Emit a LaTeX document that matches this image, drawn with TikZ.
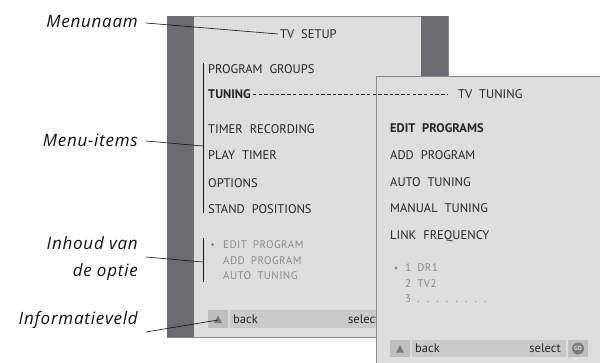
\documentclass[tikz,border=0pt]{standalone}
\usepackage{fontspec}
\setmainfont{PT Sans}
\newfontfamily\menufont[WordSpace=2.1]{PT Sans}
\newfontfamily\subfont[WordSpace=1.8,LetterSpace=4]{PT Sans}
\newfontfamily\lblfont[LetterSpace=4.5]{Open Sans}
\definecolor{panel}{HTML}{DDDDDE}
\definecolor{darkbar}{HTML}{6C6C70}
\definecolor{infobar}{HTML}{C9C9CA}
\definecolor{infocell}{HTML}{BEBEBF}
\definecolor{edge}{HTML}{8A8A8C}
\definecolor{menutext}{HTML}{262626}
\definecolor{subtext}{HTML}{8A8A8A}
\definecolor{labeltext}{HTML}{111111}
\begin{document}
\begin{tikzpicture}[x=1pt,y=-1pt,
  menu/.style={font=\menufont\fontsize{12.5}{13}\selectfont, text=menutext, anchor=west, inner sep=0pt, text height=8.8pt, text depth=0pt},
  menubold/.style={menu, font=\menufont\bfseries\fontsize{12.5}{13}\selectfont},
  sub/.style={font=\subfont\fontsize{11}{12}\selectfont, text=subtext, anchor=west, inner sep=0pt, text height=7.7pt, text depth=0pt},
  info/.style={font=\fontsize{12.5}{13}\selectfont, text=menutext, anchor=west, inner sep=0pt, text height=8.8pt, text depth=0pt},
  lbl/.style={font=\lblfont\itshape\fontsize{17}{19}\selectfont, text=labeltext, anchor=east, inner sep=0pt, text height=12pt, text depth=0pt},
  leader/.style={draw=labeltext, line width=0.6pt},
  bracket/.style={draw=labeltext, line width=0.6pt},
  panelbox/.style={fill=panel, draw=edge, line width=0.6pt},
  barbox/.style={fill=darkbar},
  cell/.style={fill=infocell},
  bar/.style={fill=infobar},
  tri/.style={fill=subtext!90!black}
]
\useasboundingbox (0,0) rectangle (600,362);
% ---------- left panel ----------
\path[panelbox] (167,16) rectangle (448,337);
\path[barbox] (167.3,16.3) rectangle (194,336.7);
\path[barbox] (421,16.3) rectangle (447.7,336.7);
\node[menu] (tvsetup) at (280,34) {TV SETUP};
\node[menu] (pg) at (208,69) {PROGRAM GROUPS};
\node[menubold] (tuning) at (208,94) {TUNING};
\node[menu] (tr) at (208,129) {TIMER RECORDING};
\node[menu] (pt) at (208,155) {PLAY TIMER};
\node[menu] (opt) at (208,183) {OPTIONS};
\node[menu] (sp) at (208,209) {STAND POSITIONS};
\node[sub] (ep1) at (223,245) {EDIT PROGRAM};
\node[sub] (ap1) at (223,261) {ADD PROGRAM};
\node[sub] (at1) at (223,276) {AUTO TUNING};
\fill[subtext] (212.5,244.5) circle (1.6);
% left info bar
\path[cell] (208,310) rectangle (228,328);
\path[bar] (230,310) rectangle (420,328);
\path[tri] (214,323) -- (222,323) -- (218,315.5) -- cycle;
\node[info] (back1) at (233,319) {back};
\node[info] (sel1) at (348,319) {select};
% brackets
\draw[bracket] (203,63) -- (203,213);
\draw[bracket] (203,238) -- (203,282);
% ---------- right panel ----------
\path[panelbox] (376,76) rectangle (601,363);
\node[menu] (tvtuning) at (458,94) {TV TUNING};
\node[menubold] (ep) at (390,128) {EDIT PROGRAMS};
\node[menu] (ap) at (390,155) {ADD PROGRAM};
\node[menu] (at) at (390,182) {AUTO TUNING};
\node[menu] (mt) at (390,208) {MANUAL TUNING};
\node[menu] (lf) at (390,235) {LINK FREQUENCY};
\node[sub] (p1) at (405,268) {1 DR1};
\node[sub] (p2) at (405,284) {2 TV2};
\node[sub] (p3) at (405,299) {3 . . . . . . . .};
\fill[subtext] (396,268) circle (1.6);
% right info bar
\path[cell] (390,340) rectangle (410,357);
\path[bar] (412,340) rectangle (566,357);
\path[cell] (568,340) rectangle (588,357);
\path[tri] (396,352.5) -- (404,352.5) -- (400,345) -- cycle;
\node[info] (back2) at (415,348.5) {back};
\node[info, anchor=east] (sel2) at (561,348.5) {select};
\fill[subtext!90!black] (578,348.5) circle (6);
\node[font=\bfseries\fontsize{6}{6}\selectfont, text=panel, inner sep=0pt] (go) at (578,348.5) {GO};
% dashed connector
\draw[draw=menutext, line width=0.6pt, dash pattern=on 3.5pt off 2.2pt] ([xshift=2pt]tuning.east) -- ([xshift=-10pt]tvtuning.west);
% ---------- labels ----------
\node[lbl] (l1) at (138,21) {Menunaam};
\node[lbl] (l2) at (138,140) {Menu-items};
\node[lbl] (l3) at (138,243) {Inhoud van};
\node[lbl] (l3b) at (138,270) {de optie};
\node[lbl] (l4) at (138,318) {Informatieveld};
\coordinate (c2) at (203,146);
\coordinate (c3) at (203,262);
\coordinate (c4) at (218,320);
\draw[leader] ([xshift=8pt,yshift=-2pt]l1.east) -- ([xshift=-2pt]tvsetup.west);
\draw[leader] ([xshift=8pt,yshift=-1pt]l2.east) -- (c2);
\draw[leader] (146,257) -- (c3);
\draw[leader] ([xshift=8pt,yshift=-14pt]l4.east) -- (c4);
\end{tikzpicture}
\end{document}
